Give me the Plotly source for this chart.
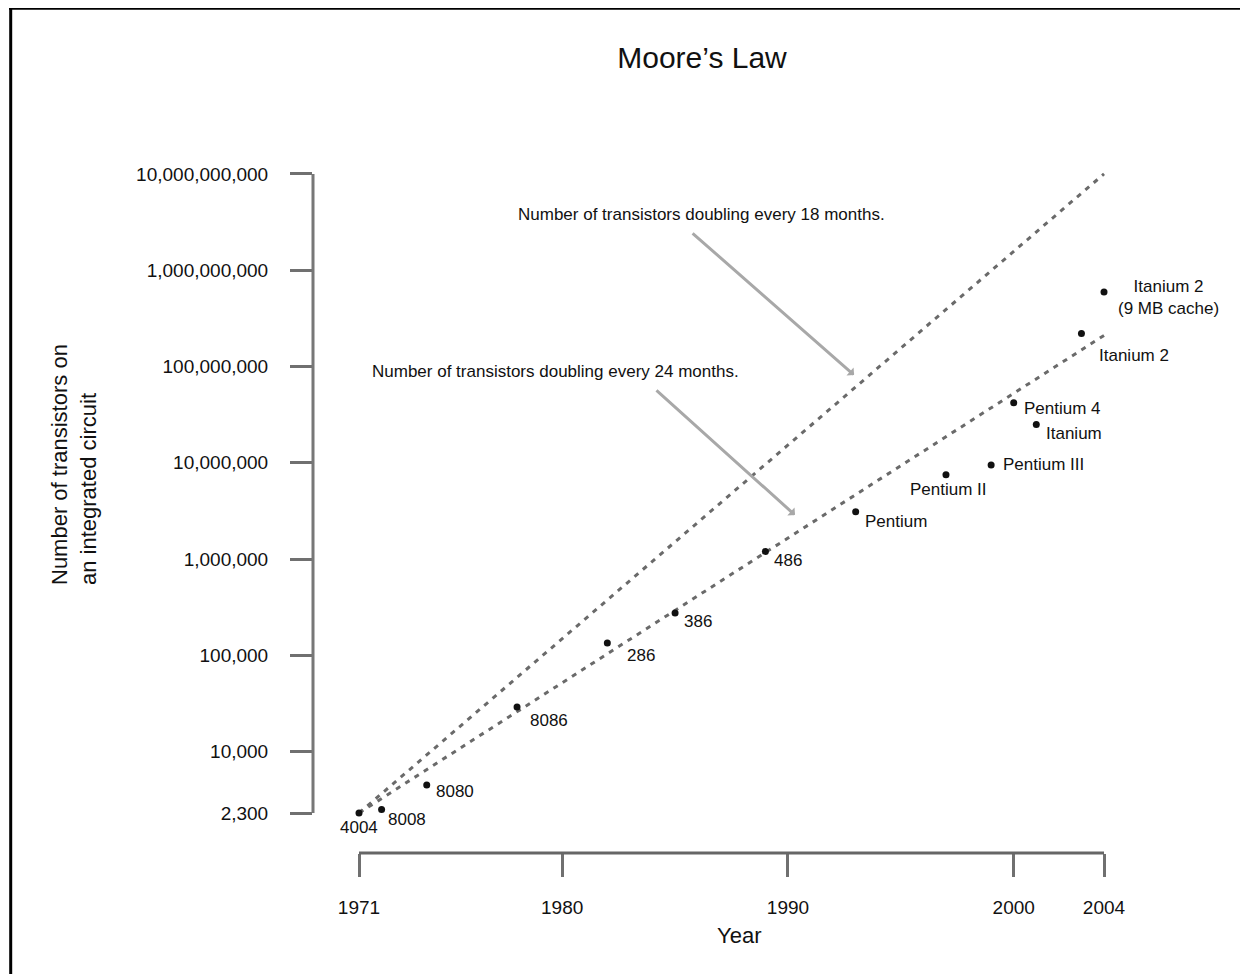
import math
import plotly.graph_objects as go

# ---------------- data ----------------
chips = ["4004", "8008", "8080", "8086", "286", "386", "486", "Pentium",
         "Pentium II", "Pentium III", "Pentium 4", "Itanium", "Itanium 2",
         "Itanium 2<br>(9 MB cache)"]
years = [1971, 1972, 1974, 1978, 1982, 1985, 1989, 1993, 1997, 1999, 2000, 2001, 2003, 2004]
transistors = [2300, 2500, 4500, 29000, 134000, 275000, 1200000, 3100000,
               7500000, 9500000, 42000000, 25000000, 220000000, 592000000]

trend_years = [1971, 2004]
trend_18_months = [2300, 10000000000]
trend_24_months = [2300, 210000000]

x_tick_vals = [1971, 1980, 1990, 2000, 2004]
y_tick_vals = [2300, 10000, 100000, 1000000, 10000000, 100000000, 1000000000, 10000000000]
y_tick_text = ["2,300", "10,000", "100,000", "1,000,000", "10,000,000",
               "100,000,000", "1,000,000,000", "10,000,000,000"]

title_text = "Moore’s Law"
x_title = "Year"
y_title = "Number of transistors on<br>an integrated circuit"
note_18 = "Number of transistors doubling every 18 months."
note_24 = "Number of transistors doubling every 24 months."

# ---------------- styles / layout ----------------
OFF = 8  # page body margin
W, H = 1248 - OFF, 974 - OFF
ML, MT = 313 - OFF, 160 - OFF
PW, PH = 827, 693
MR, MB = W - ML - PW, H - MT - PH
FONT = "Liberation Sans, Arial, Helvetica, sans-serif"
TXT = "#111111"
X_RANGE = [1968.962, 2005.594]
Y_RANGE = [2.9462, 10.1447]


def px(xp):
    # screen-x (reference pixels) -> paper x
    return (xp - OFF - ML) / PW


def py(yp):
    # screen-y (reference pixels) -> paper y
    return (MT + PH - (yp - OFF)) / PH


# label offsets (xanchor, xshift, yshift)
label_style = {
    "4004": ("center", 0, -14),
    "8008": ("left", 4, -10),
    "8080": ("left", 7, -7),
    "8086": ("left", 11, -13),
    "286": ("left", 18, -12),
    "386": ("left", 7, -9),
    "486": ("left", 7, -9),
    "Pentium": ("left", 7, -10),
    "Pentium II": ("center", 3, -15),
    "Pentium III": ("left", 10, 0),
    "Pentium 4": ("left", 8, -6),
    "Itanium": ("left", 8, -9),
    "Itanium 2": ("left", 16, -22),
    "Itanium 2<br>(9 MB cache)": ("left", 12, -5),
}

fig = go.Figure()

dash_style = "5px,6px"
fig.add_trace(go.Scatter(x=trend_years, y=trend_18_months, mode="lines",
                         line=dict(color="#6a6a6a", width=3, dash=dash_style),
                         hoverinfo="skip", showlegend=False))
fig.add_trace(go.Scatter(x=trend_years, y=trend_24_months, mode="lines",
                         line=dict(color="#6a6a6a", width=3, dash=dash_style),
                         hoverinfo="skip", showlegend=False))
fig.add_trace(go.Scatter(x=years, y=transistors, mode="markers",
                         marker=dict(color="#111111", size=7),
                         showlegend=False, cliponaxis=False))

annotations = []
for name, yr, n in zip(chips, years, transistors):
    xa, xs, ys = label_style[name]
    annotations.append(dict(x=yr, y=math.log10(n), xref="x", yref="y", text=name,
                            showarrow=False, xanchor=xa, yanchor="middle",
                            xshift=xs, yshift=ys, align="center",
                            font=dict(family=FONT, size=17, color=TXT)))

# arrows pointing at the trend lines
annotations.append(dict(x=1992.93, y=7.911, xref="x", yref="y",
                        ax=1985.71, ay=9.397, axref="x", ayref="y",
                        text="", showarrow=True, arrowhead=1, arrowsize=0.6,
                        arrowwidth=3, arrowcolor="#a8a8a8", standoff=0))
annotations.append(dict(x=1990.31, y=6.457, xref="x", yref="y",
                        ax=1984.11, ay=7.766, axref="x", ayref="y",
                        text="", showarrow=True, arrowhead=1, arrowsize=0.6,
                        arrowwidth=3, arrowcolor="#a8a8a8", standoff=0))

annotations.append(dict(x=px(701), y=py(214), xref="paper", yref="paper", text=note_18,
                        showarrow=False, xanchor="center", yanchor="middle",
                        font=dict(family=FONT, size=17, color=TXT)))
annotations.append(dict(x=px(555), y=py(371), xref="paper", yref="paper", text=note_24,
                        showarrow=False, xanchor="center", yanchor="middle",
                        font=dict(family=FONT, size=17, color=TXT)))
annotations.append(dict(x=px(739), y=py(935), xref="paper", yref="paper", text=x_title,
                        showarrow=False, xanchor="center", yanchor="middle",
                        font=dict(family=FONT, size=22, color=TXT)))
annotations.append(dict(x=px(74), y=py(464), xref="paper", yref="paper", text=y_title,
                        showarrow=False, xanchor="center", yanchor="middle",
                        textangle=-90, align="left",
                        font=dict(family=FONT, size=22, color=TXT)))

shapes = [
    # detached axis lines
    dict(type="line", xref="paper", x0=0, x1=0, yref="y",
         y0=y_tick_vals[0], y1=y_tick_vals[-1], line=dict(color="#777777", width=3)),
    dict(type="line", xref="x", x0=x_tick_vals[0], x1=x_tick_vals[-1], yref="paper",
         y0=0, y1=0, line=dict(color="#666666", width=3)),
    # image frame (top and left)
    dict(type="line", xref="paper", yref="paper", x0=px(10.7), x1=px(10.7),
         y0=py(7), y1=py(990), line=dict(color="black", width=3)),
    dict(type="line", xref="paper", yref="paper", x0=px(9), x1=px(1260),
         y0=py(8.3), y1=py(8.3), line=dict(color="black", width=3)),
]

fig.update_layout(
    width=W, height=H,
    margin=dict(l=ML, r=MR, t=MT, b=MB, pad=0),
    paper_bgcolor="white", plot_bgcolor="white",
    title=dict(text=title_text, x=(702 - OFF) / W, xref="container", xanchor="center",
               y=1 - (57 - OFF) / H, yref="container", yanchor="middle",
               font=dict(family=FONT, size=30, color=TXT)),
    annotations=annotations,
    shapes=shapes,
    showlegend=False,
)

fig.update_xaxes(range=X_RANGE, tickvals=x_tick_vals, ticktext=[str(v) for v in x_tick_vals],
                 showgrid=False, zeroline=False, showline=False,
                 ticks="outside", ticklen=23, tickwidth=2.5, tickcolor="#707070",
                 ticklabelstandoff=14,
                 tickfont=dict(family=FONT, size=19, color=TXT))
fig.update_yaxes(type="log", range=Y_RANGE, tickvals=y_tick_vals, ticktext=y_tick_text,
                 showgrid=False, zeroline=False, showline=False,
                 ticks="outside", ticklen=22, tickwidth=2.5, tickcolor="#707070",
                 ticklabelstandoff=18,
                 tickfont=dict(family=FONT, size=19, color=TXT))

fig.write_html("out.html")
